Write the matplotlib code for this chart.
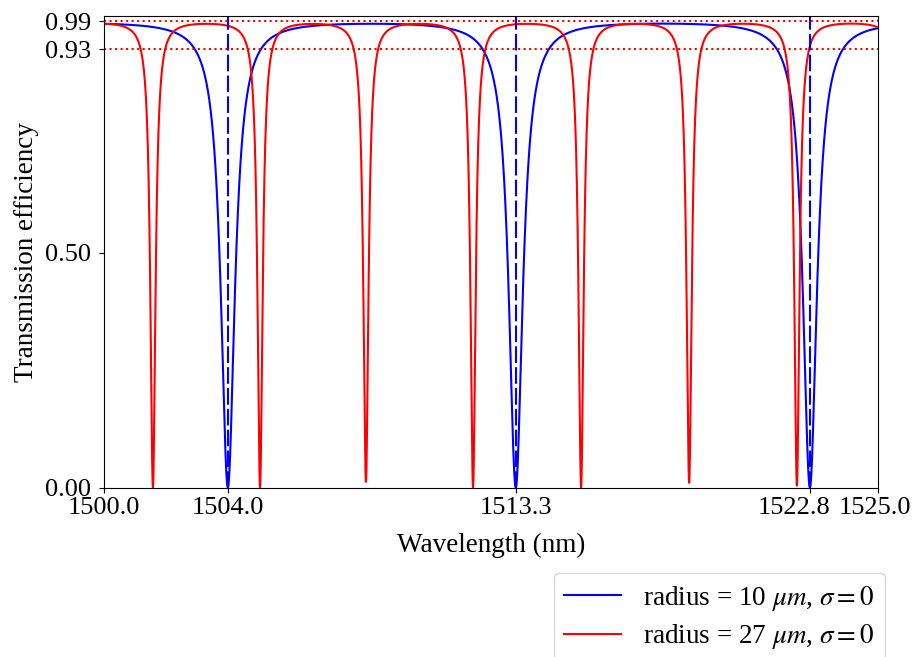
import numpy as np
import matplotlib.pyplot as plt
from matplotlib.transforms import ScaledTranslation

plt.rcParams['font.family'] = ['Liberation Serif', 'DejaVu Serif']
plt.rcParams['mathtext.fontset'] = 'stix'

# resonances (nm), incl. the ones just outside the window
blue_centers = [1494.7, 1504.0, 1513.3, 1522.8, 1532.3]
blue_minima = [0.0, 0.0, 0.0, 0.0, 0.0]
blue_hwhm = 0.27
red_centers = [1498.10, 1501.58, 1505.04, 1508.46, 1511.92, 1515.41, 1518.90, 1522.38, 1525.86]
red_minima = [0.0, 0.0, 0.0, 0.012, 0.0, 0.0, 0.010, 0.004, 0.0]
red_hwhm = 0.10
peak = 0.996

blue_marks = [1504.0, 1513.3, 1522.8]
level_marks = [0.994, 0.934]

xticks = [1500.0, 1504.0, 1513.3, 1522.8, 1525.0]
yticks = [0.0, 0.5, 0.934, 0.994]
ytick_labels = ['0.00', '0.50', '0.93', '0.99']

labels = [r'radius = 10 $\mu m$, $\sigma = 0$', r'radius = 27 $\mu m$, $\sigma = 0$']

wl = np.linspace(1500, 1525, 25001)


def spectrum(centers, minima, hwhm):
    t = np.full_like(wl, peak)
    for c, m in zip(centers, minima):
        depth = 1 - m / peak
        t *= 1 - depth / (1 + ((wl - c) / hwhm) ** 2)
    return t


blue = spectrum(blue_centers, blue_minima, blue_hwhm)
red = spectrum(red_centers, red_minima, red_hwhm)

fig = plt.figure(figsize=(9.21, 6.57), dpi=100)
ax = fig.add_axes([104 / 921, 1 - 487.5 / 657, 774 / 921, 471.5 / 657])

ax.plot(wl, blue, color='blue', lw=1.5, label=labels[0])
ax.plot(wl, red, color='red', lw=1.5, label=labels[1])
for c in blue_marks:
    ax.axvline(c, color='blue', ls=(0, (8, 2)), lw=1.5)
for h in level_marks:
    ax.axhline(h, color='red', ls=':', lw=1.5)

ax.set_xlim(1500, 1525)
ax.set_ylim(0, 1.005)
ax.set_xticks(xticks)
ax.set_xticklabels(['%.1f' % v for v in xticks])
ax.set_yticks(yticks)
ax.set_yticklabels(ytick_labels)
ax.tick_params(labelsize=19)
ax.tick_params(axis='y', pad=6)
ax.set_xlabel('Wavelength (nm)', fontsize=19.5, labelpad=10)
ax.set_ylabel('Transmission efficiency', fontsize=19.5)

# nudge the two crowded labels on the right apart
lbls = ax.get_xticklabels()
lbls[3].set_transform(lbls[3].get_transform() + ScaledTranslation(-16 / 100, 0, fig.dpi_scale_trans))
lbls[4].set_transform(lbls[4].get_transform() + ScaledTranslation(-3 / 100, 0, fig.dpi_scale_trans))

fig.legend(loc='upper right', bbox_to_anchor=(885 / 921, 1 - 573 / 657),
           borderaxespad=0, fontsize=19.5, handlelength=2.1, handletextpad=0.8,
           labelspacing=0.35)

fig.savefig('out.png', dpi=100)
